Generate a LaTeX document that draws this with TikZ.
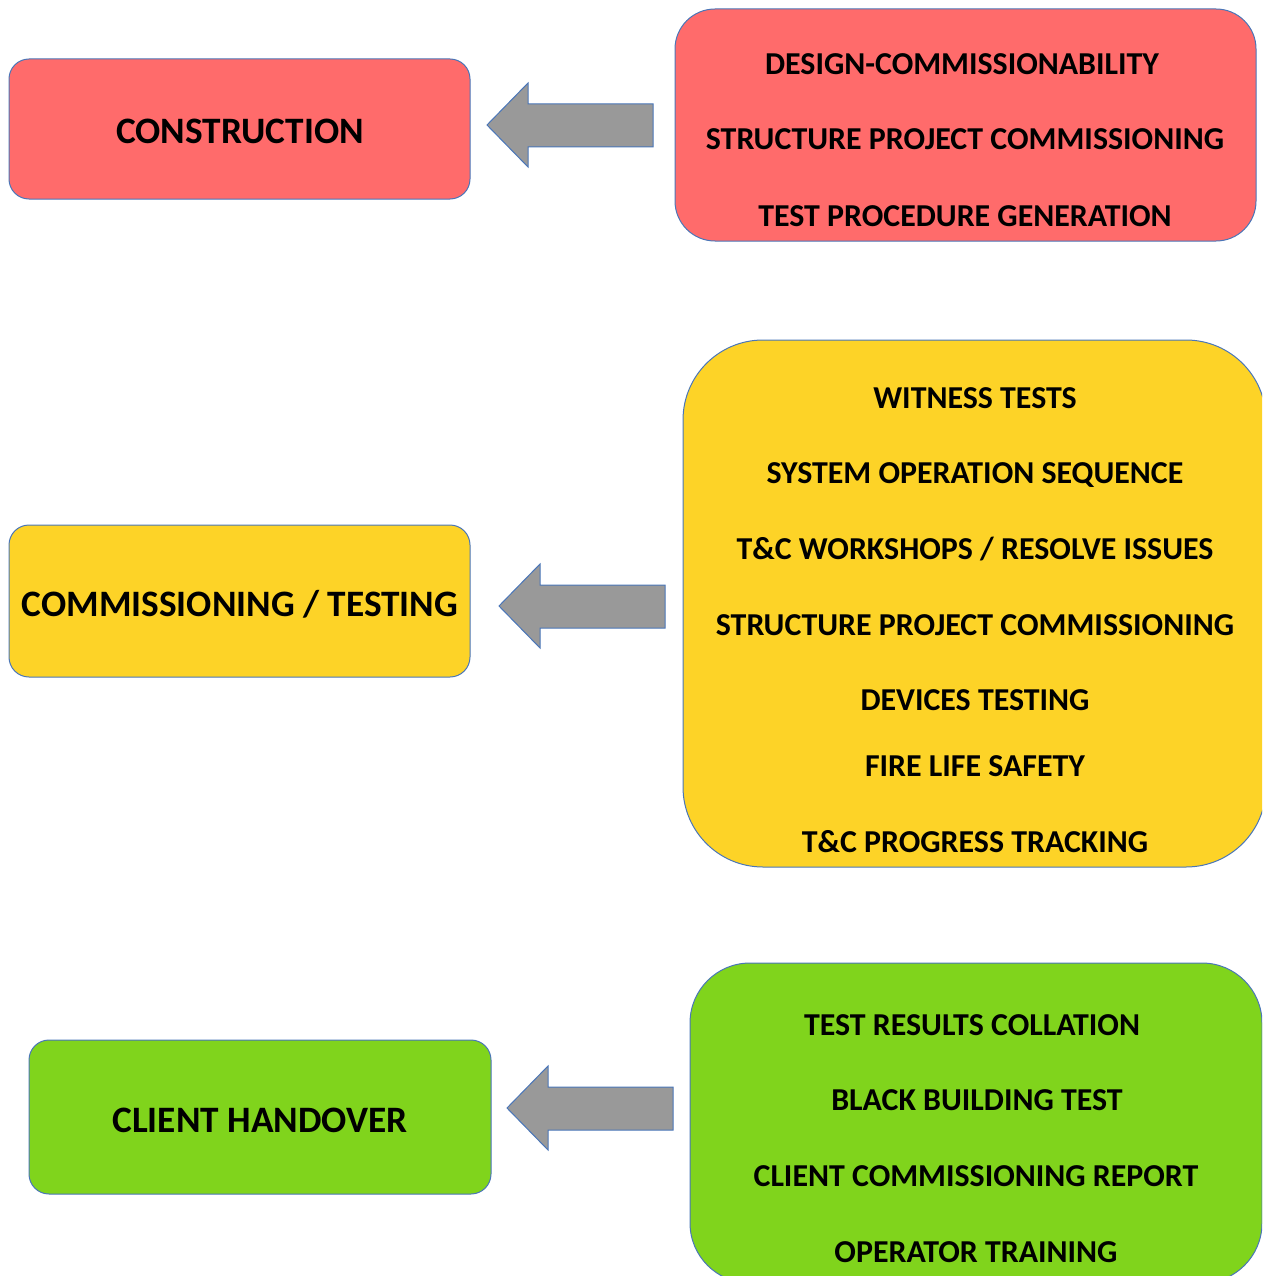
\documentclass[tikz,border=0pt]{standalone}
\usepackage{fontspec}
\setmainfont{Carlito}
\definecolor{cred}{HTML}{FF6B6B}
\definecolor{cyel}{HTML}{FDD327}
\definecolor{cgrn}{HTML}{80D41C}
\definecolor{cedge}{HTML}{4A76B8}
\definecolor{cgray}{HTML}{999999}
\tikzset{
  box/.style={draw=cedge, line width=1pt, inner sep=0pt, outer sep=0pt},
  big/.style={font=\fontsize{37.3}{44}\selectfont\bfseries, anchor=base, inner sep=0pt},
  item/.style={font=\fontsize{31.9}{38}\selectfont\bfseries, anchor=base, inner sep=0pt},
  blockarrow/.style={fill=cgray, draw=cedge, line width=1pt, line join=miter}
}
\begin{document}
\begin{tikzpicture}[x=1pt,y=-1pt]
\useasboundingbox (0,0) rectangle (1262,1276);
\clip (0,0) rectangle (1262,1276);
% left boxes
\node[box, fill=cred, rounded corners=20pt, minimum width=461pt, minimum height=140pt] (lb1) at (239.5,129) {};
\node[box, fill=cyel, rounded corners=20pt, minimum width=461pt, minimum height=152pt] (lb2) at (239.5,601) {};
\node[box, fill=cgrn, rounded corners=20pt, minimum width=462pt, minimum height=154pt] (lb3) at (260,1117) {};
\node[big] (t1) at (240,144) {CONSTRUCTION};
\node[big] (t2) at (240,616) {COMMISSIONING / TESTING};
\node[big] (t3) at (260,1132) {CLIENT HANDOVER};
% right boxes
\node[box, fill=cred, rounded corners=40pt, minimum width=581pt, minimum height=232pt] (rb1) at (965.5,125) {};
\node[box, fill=cyel, rounded corners=80pt, minimum width=583pt, minimum height=527pt] (rb2) at (974.5,603.5) {};
\node[box, fill=cgrn, rounded corners=60pt, minimum width=572pt, minimum height=320pt] (rb3) at (976,1123) {};
% red items
\node[item] (r1) at (962,75) {DESIGN-COMMISSIONABILITY};
\node[item] (r2) at (965,150) {STRUCTURE PROJECT COMMISSIONING};
\node[item] (r3) at (965,226) {TEST PROCEDURE GENERATION};
% yellow items
\node[item] (y1) at (975,408) {WITNESS TESTS};
\node[item] (y2) at (975,483) {SYSTEM OPERATION SEQUENCE};
\node[item] (y3) at (975,559) {T\&C WORKSHOPS / RESOLVE ISSUES};
\node[item] (y4) at (975,635) {STRUCTURE PROJECT COMMISSIONING};
\node[item] (y5) at (975,710) {DEVICES TESTING};
\node[item] (y6) at (975,776) {FIRE LIFE SAFETY};
\node[item] (y7) at (975,852) {T\&C PROGRESS TRACKING};
% green items
\node[item] (g1) at (972,1035) {TEST RESULTS COLLATION};
\node[item] (g2) at (977,1110) {BLACK BUILDING TEST};
\node[item] (g3) at (976,1186) {CLIENT COMMISSIONING REPORT};
\node[item] (g4) at (976,1262) {OPERATOR TRAINING};
% block arrows
\coordinate (a1) at (487,125);
\draw[blockarrow] (a1) -- ++(41,-42) -- ++(0,21) -- ++(125,0) -- ++(0,43) -- ++(-125,0) -- ++(0,20) -- cycle;
\coordinate (a2) at (499,606);
\draw[blockarrow] (a2) -- ++(41,-42) -- ++(0,21) -- ++(125,0) -- ++(0,43) -- ++(-125,0) -- ++(0,20) -- cycle;
\coordinate (a3) at (507,1108);
\draw[blockarrow] (a3) -- ++(41,-42) -- ++(0,21) -- ++(125,0) -- ++(0,43) -- ++(-125,0) -- ++(0,20) -- cycle;
\end{tikzpicture}
\end{document}
